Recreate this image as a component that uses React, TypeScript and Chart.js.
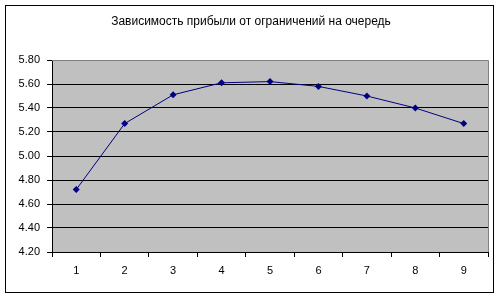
import React, { useEffect, useRef } from "react";
import { Chart, registerables } from "chart.js";

Chart.register(...registerables);

const chartTitle = "Зависимость прибыли от ограничений на очередь";
const categories = ["1", "2", "3", "4", "5", "6", "7", "8", "9"];
const profitValues = [4.72, 5.27, 5.51, 5.61, 5.62, 5.58, 5.5, 5.4, 5.27];
const yMin = 4.2;
const yMax = 5.8;
const yStep = 0.2;

const framePlugin = {
  id: "frame",
  beforeDraw(chart: any) {
    const { ctx, chartArea } = chart;
    ctx.save();
    ctx.fillStyle = "#ffffff";
    ctx.fillRect(0, 0, chart.width, chart.height);
    ctx.fillStyle = "#c0c0c0";
    ctx.fillRect(chartArea.left, chartArea.top, chartArea.right - chartArea.left, chartArea.bottom - chartArea.top);
    ctx.restore();
  },
  afterDraw(chart: any) {
    const { ctx, chartArea } = chart;
    ctx.save();
    ctx.strokeStyle = "#000000";
    ctx.lineWidth = 1;
    ctx.strokeRect(5.5, 5.5, 488, 287);
    ctx.strokeStyle = "#808080";
    ctx.beginPath();
    ctx.moveTo(chartArea.left, chartArea.top + 0.5);
    ctx.lineTo(chartArea.right + 0.5, chartArea.top + 0.5);
    ctx.lineTo(chartArea.right + 0.5, chartArea.bottom);
    ctx.stroke();
    ctx.fillStyle = "#000000";
    ctx.font = "12px Arial, 'Liberation Sans', sans-serif";
    ctx.textAlign = "center";
    ctx.textBaseline = "middle";
    ctx.fillText(chartTitle, 251, 22);
    ctx.restore();
  },
};

export default function App() {
  const ref = useRef<HTMLCanvasElement | null>(null);
  useEffect(() => {
    document.body.style.margin = "0";
    const canvas = ref.current;
    if (!canvas) return;
    const font = { family: "Arial, 'Liberation Sans', sans-serif", size: 11 };
    const chart = new Chart(canvas, {
      type: "line",
      data: {
        labels: categories,
        datasets: [
          {
            data: profitValues,
            borderColor: "#000080",
            backgroundColor: "#000080",
            borderWidth: 1,
            pointStyle: "rectRot",
            pointRadius: 3.5,
            pointBorderWidth: 0,
            pointBackgroundColor: "#000080",
            tension: 0,
          },
        ],
      },
      options: {
        animation: false,
        responsive: false,
        devicePixelRatio: 1,
        layout: { padding: { top: 60, right: 16, left: 0, bottom: 0 } },
        plugins: { legend: { display: false }, title: { display: false }, tooltip: { enabled: false } },
        scales: {
          x: {
            offset: true,
            grid: {
              offset: true,
              drawOnChartArea: false,
              drawTicks: true,
              tickLength: 5,
              tickColor: "#000000",
            },
            border: { color: "#000000", width: 1 },
            ticks: { color: "#000000", font, padding: 7, maxRotation: 0 },
            afterFit(scale: any) {
              scale.height = 46;
            },
          },
          y: {
            min: yMin,
            max: yMax,
            ticks: {
              stepSize: yStep,
              color: "#000000",
              font,
              padding: 7,
              callback: (v: any) => Number(v).toFixed(2),
            },
            grid: {
              color: (c: any) => (Math.abs(c.tick.value - yMax) < 1e-6 ? "#808080" : "#000000"),
              tickColor: "#000000",
              tickLength: 5,
              lineWidth: 1,
            },
            border: { color: "#000000", width: 1 },
            afterFit(scale: any) {
              scale.width = 52;
            },
          },
        },
      },
      plugins: [framePlugin],
    });
    return () => chart.destroy();
  }, []);
  return <canvas ref={ref} width={504} height={298} style={{ display: "block", width: 504, height: 298 }} />;
}
